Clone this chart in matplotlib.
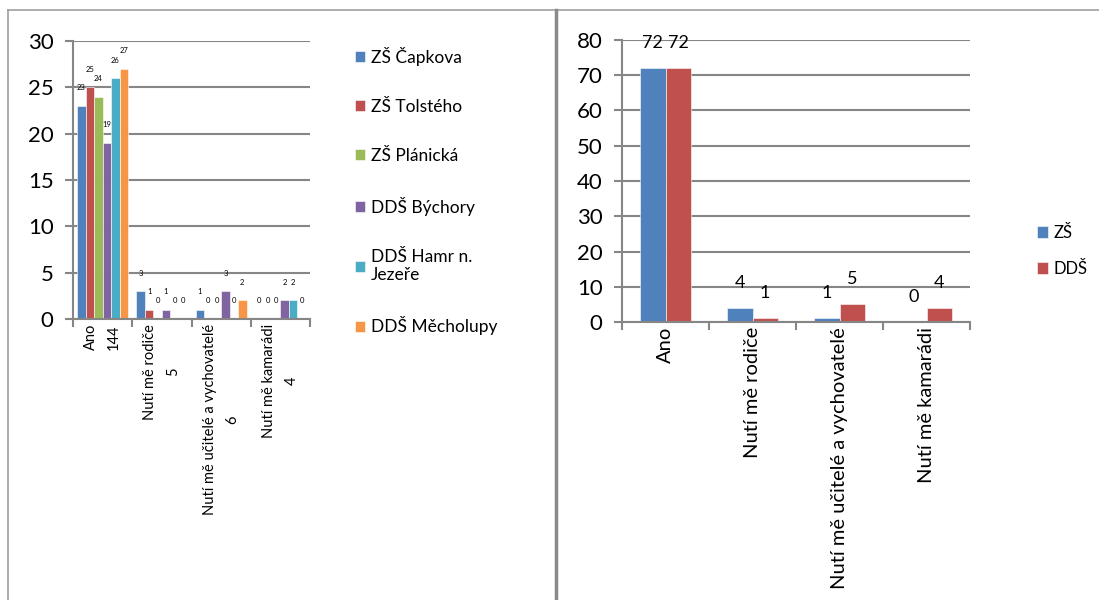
import numpy as np
import matplotlib.pyplot as plt
from matplotlib.lines import Line2D

plt.rcParams['font.family'] = ['Lato', 'DejaVu Sans']

# left chart data
cats_left = ['Ano\n144', 'Nutí mě rodiče\n5', 'Nutí mě učitelé a vychovatelé\n6', 'Nutí mě kamarádi\n4']
schools = ['ZŠ Čapkova', 'ZŠ Tolstého', 'ZŠ Plánická', 'DDŠ Býchory', 'DDŠ Hamr n.\nJezeře', 'DDŠ Měcholupy']
capkova = [23, 3, 1, 0]
tolsteho = [25, 1, 0, 0]
planicka = [24, 0, 0, 0]
bychory = [19, 1, 3, 2]
hamr = [26, 0, 0, 2]
mecholupy = [27, 0, 2, 0]

# right chart data
cats_right = ['Ano', 'Nutí mě rodiče', 'Nutí mě učitelé a vychovatelé', 'Nutí mě kamarádi']
zs = [72, 4, 1, 0]
dds = [72, 1, 5, 4]

colors6 = ['#4F81BD', '#C0504D', '#9BBB59', '#8064A2', '#4BACC6', '#F79646']
grid_c = '#868686'

fig = plt.figure(figsize=(10.99, 6), dpi=100)

# panel frames
fig.add_artist(Line2D([8/1099, 1], [1 - 10/600] * 2, color='#a0a0a0', lw=1.2))
fig.add_artist(Line2D([8/1099] * 2, [0, 1 - 10/600], color='#a0a0a0', lw=1.2))
fig.add_artist(Line2D([556/1099] * 2, [0, 1 - 10/600], color='#8a8a8a', lw=2.5))


def style_axes(ax, top, fs):
    ax.set_xlim(-0.5, 3.5)
    ax.set_ylim(0, top)
    ax.grid(axis='y', color=grid_c, lw=1.5)
    ax.set_axisbelow(True)
    for s in ['top', 'right']:
        ax.spines[s].set_visible(False)
    ax.spines['left'].set_color(grid_c)
    ax.spines['bottom'].set_color(grid_c)
    ax.spines['left'].set_linewidth(1.5)
    ax.spines['bottom'].set_linewidth(1.5)
    ax.tick_params(axis='y', direction='out', length=6, color=grid_c, width=1.5,
                   labelsize=fs, pad=8)
    ax.set_xticks(np.arange(-0.5, 4, 1), minor=True)
    ax.tick_params(axis='x', which='minor', direction='out', length=6, color=grid_c, width=1.5)
    ax.tick_params(axis='x', which='major', length=0)


# left chart
ax1 = fig.add_axes([73/1099, 1 - 319/600, 237/1099, 278/600])
series = [capkova, tolsteho, planicka, bychory, hamr, mecholupy]
x = np.arange(len(cats_left))
w = 0.143
for i, vals in enumerate(series):
    pos = x + (i - 2.5) * w
    ax1.bar(pos, vals, w, color=colors6[i], label=schools[i],
            edgecolor='white', linewidth=0.4)
    for p, v in zip(pos, vals):
        ax1.annotate(str(v), (p, v), xytext=(0, 13), textcoords='offset points',
                     ha='center', va='center', fontsize=5.5)
style_axes(ax1, 30, 16)
ax1.set_yticks(range(0, 31, 5))
ax1.set_xticks(x)
ax1.set_xticklabels(cats_left, rotation=90, fontsize=10.5, ha='center', va='top',
                    multialignment='center', linespacing=1.8)
ax1.legend(loc='upper left', bbox_to_anchor=(348/1099, 1 - 40/600),
           bbox_transform=fig.transFigure, frameon=False, fontsize=12.5,
           handlelength=0.6, handleheight=0.6, handletextpad=0.3,
           labelspacing=1.9, borderaxespad=0)

# right chart
ax2 = fig.add_axes([622/1099, 1 - 322/600, 348/1099, 282/600])
x2 = np.arange(len(cats_right))
w2 = 0.29
for i, (vals, name, c) in enumerate([(zs, 'ZŠ', '#4F81BD'), (dds, 'DDŠ', '#C0504D')]):
    pos = x2 + (i - 0.5) * w2
    ax2.bar(pos, vals, w2, color=c, label=name, edgecolor='white', linewidth=0.4)
    for p, v in zip(pos, vals):
        ax2.annotate(str(v), (p, v), xytext=(0, 18), textcoords='offset points',
                     ha='center', va='center', fontsize=13)
style_axes(ax2, 80, 16)
ax2.set_yticks(range(0, 81, 10))
ax2.set_xticks(x2)
ax2.set_xticklabels(cats_right, rotation=90, fontsize=14.5, ha='center', va='top')
ax2.legend(loc='upper left', bbox_to_anchor=(1030/1099, 1 - 218/600),
           bbox_transform=fig.transFigure, frameon=False, fontsize=12,
           handlelength=0.7, handleheight=0.7, handletextpad=0.3,
           labelspacing=1.2, borderaxespad=0)

fig.savefig('out.png', dpi=100)
